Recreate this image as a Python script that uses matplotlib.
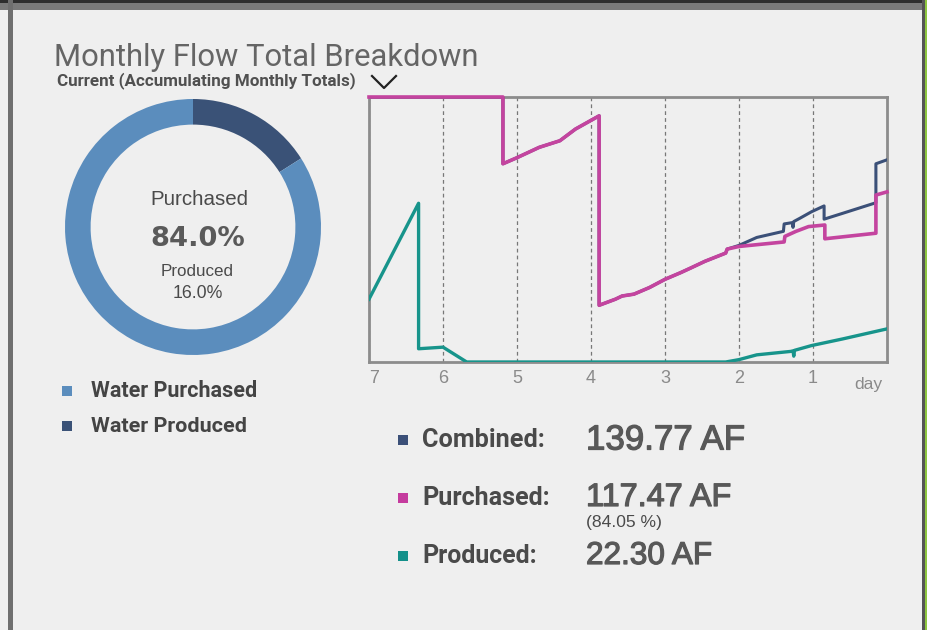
import matplotlib
matplotlib.use("Agg")
import matplotlib.pyplot as plt
import matplotlib.patheffects as pe
from matplotlib.lines import Line2D
from matplotlib.patches import Rectangle

W, H = 927, 630
BG = "#efefef"

# ---- data ----
share_labels = ["Water Purchased", "Water Produced"]
share_values = [84.0, 16.0]
share_colors = ["#5b8dbd", "#3a5277"]

day_ticks = [7, 6, 5, 4, 3, 2, 1]

combined_days = [7.0, 5.19, 5.19, 5.00, 4.70, 4.42, 4.21, 4.05, 3.89, 3.89, 3.67, 3.58, 3.42,
                 3.21, 3.00, 2.79, 2.65, 2.46, 2.18, 2.16, 2.00, 1.76, 1.40, 1.39, 1.28, 1.27,
                 1.26, 1.18, 1.02, 0.85, 0.85, 0.60, 0.15, 0.15, 0.0]
combined_vals = [10.0, 10.0, 7.48, 7.71, 8.10, 8.35, 8.79, 9.04, 9.29, 2.14, 2.37, 2.49, 2.56,
                 2.81, 3.12, 3.37, 3.55, 3.80, 4.11, 4.26, 4.40, 4.70, 4.93, 5.21, 5.26, 5.08,
                 5.30, 5.42, 5.67, 5.89, 5.39, 5.61, 6.01, 7.48, 7.63]

purchased_days = [7.0, 5.19, 5.19, 5.00, 4.70, 4.42, 4.21, 4.05, 3.89, 3.89, 3.67, 3.58, 3.42,
                  3.21, 3.00, 2.79, 2.65, 2.46, 2.18, 2.16, 2.00, 1.39, 1.38, 1.23, 1.06, 0.84,
                  0.84, 0.15, 0.15, 0.0]
purchased_vals = [10.0, 10.0, 7.48, 7.71, 8.10, 8.35, 8.79, 9.04, 9.29, 2.14, 2.37, 2.49, 2.56,
                  2.81, 3.12, 3.37, 3.55, 3.80, 4.11, 4.26, 4.36, 4.53, 4.74, 4.93, 5.11, 5.17,
                  4.65, 4.86, 6.30, 6.42]

produced_days = [7.0, 6.33, 6.33, 6.00, 5.68, 2.18, 2.00, 1.76, 1.30, 1.27, 1.26, 1.25, 1.02,
                 0.60, 0.0]
produced_vals = [2.37, 5.99, 0.50, 0.56, 0.0, 0.0, 0.09, 0.27, 0.40, 0.42, 0.22, 0.44, 0.62,
                 0.87, 1.25]

stat_names = ["Combined:", "Purchased:", "Produced:"]
stat_values = ["139.77 AF", "117.47 AF", "22.30 AF"]
stat_colors = ["#3b5078", "#c53b9e", "#14908a"]
purchased_pct = "(84.05 %)"

LINE_COMBINED = "#3b5078"
LINE_PURCHASED = "#c4449f"
LINE_PRODUCED = "#17948b"

NARROW = ["DejaVu Sans Condensed", "Roboto", "DejaVu Sans"]
PLAIN = ["Liberation Sans", "DejaVu Sans"]


def fx(px):
    return px / W


def fy(py):
    return 1 - py / H


fig = plt.figure(figsize=(W / 100, H / 100), dpi=100, facecolor=BG)
renderer = fig.canvas.get_renderer()


def fit_text(x, y, s, width, **kw):
    """Place text at pixel (x, y) and scale its size so it spans `width` pixels."""
    t = fig.text(fx(x), fy(y), s, **kw)
    w = t.get_window_extent(renderer).width
    t.set_fontsize(t.get_fontsize() * width / w)
    return t


def thicken(color, lw=0.7):
    return [pe.withStroke(linewidth=lw, foreground=color)]


# panel frame
fig.add_artist(Rectangle((0, fy(10)), 1, 10 / H, transform=fig.transFigure,
                         facecolor="#7a7a7a", edgecolor="none"))
fig.add_artist(Rectangle((0, fy(2.5)), 1, 2.5 / H, transform=fig.transFigure,
                         facecolor="#2e2e2e", edgecolor="none"))
fig.add_artist(Rectangle((fx(8), 0), 4.5 / W, fy(0), transform=fig.transFigure,
                         facecolor="#6f6f6f", edgecolor="none"))
fig.add_artist(Rectangle((fx(922), 0), 3 / W, 1, transform=fig.transFigure,
                         facecolor="#555555", edgecolor="none"))
fig.add_artist(Rectangle((fx(925), 0), 2 / W, 1, transform=fig.transFigure,
                         facecolor="#8ec63f", edgecolor="none"))

# title block
fit_text(54, 66, "Monthly Flow Total Breakdown", 424, fontsize=19, family=NARROW,
         color="#656565", va="baseline")
fit_text(57, 85, "Current (Accumulating Monthly Totals)", 300, fontsize=11, family=NARROW,
         fontweight="bold", color="#505050", va="baseline")
fig.add_artist(Line2D([fx(372), fx(384), fx(396)], [fy(76), fy(88), fy(76)],
                      transform=fig.transFigure, color="#222222", lw=1.6))

# donut
R = 128
dax = fig.add_axes([fx(193 - R), fy(227 + R), 2 * R / W, 2 * R / H])
dax.pie(share_values[::-1], colors=share_colors[::-1], startangle=90, counterclock=False,
        radius=1.0, wedgeprops=dict(width=0.2, linewidth=0.0))
dax.set_xlim(-1, 1)
dax.set_ylim(-1, 1)
dax.set_aspect("equal")
dax.axis("off")

fit_text(199, 205, "Purchased", 98, ha="center", va="baseline", fontsize=13.5,
         family=PLAIN, color="#4a4a4a")
fit_text(198, 246, f"{share_values[0]:.1f}%", 95, ha="center", va="baseline",
         fontsize=22, family=["DejaVu Sans"], fontweight="bold", color="#5a5a5a")
fit_text(197, 276, "Produced", 73, ha="center", va="baseline", fontsize=11,
         family=PLAIN, color="#4a4a4a")
fit_text(198, 298, f"{share_values[1]:.1f}%", 50, ha="center", va="baseline",
         fontsize=11, family=PLAIN, color="#4a4a4a")

# share legend
legend_widths = [166, 155]
for i, (lab, col) in enumerate(zip(share_labels, share_colors)):
    cy = 391 + 35 * i
    fig.add_artist(Rectangle((fx(62), fy(cy + 5)), 10 / W, 10 / H, transform=fig.transFigure,
                             facecolor=col, edgecolor="none"))
    fit_text(91, cy, lab, legend_widths[i], va="center", fontsize=13.5,
             family=NARROW, fontweight="bold", color="#444444")

# line chart
ax = fig.add_axes([fx(369), fy(362), (887 - 369) / W, (362 - 97) / H])
ax.set_facecolor(BG)
ax.plot(combined_days, combined_vals, color=LINE_COMBINED, lw=2.2, zorder=3)
ax.plot(purchased_days, purchased_vals, color=LINE_PURCHASED, lw=2.6, zorder=3.1,
        clip_on=False)
ax.plot(produced_days, produced_vals, color=LINE_PRODUCED, lw=2.4, zorder=3.2)
ax.set_xlim(7, 0)
ax.set_ylim(0, 10)
for d in day_ticks:
    ax.axvline(d, color="#777777", lw=0.9, ls=(0, (3, 2.5)), zorder=0)
ax.set_xticks(day_ticks)
ax.set_xticklabels([str(d) for d in day_ticks])
for lab in ax.get_xticklabels():
    lab.set_fontsize(13)
    lab.set_color("#8a8a8a")
    lab.set_family(PLAIN)
ax.get_xticklabels()[0].set_horizontalalignment("left")
ax.tick_params(axis="x", length=0, pad=6)
ax.set_yticks([])
for sp in ax.spines.values():
    sp.set_color("#8c8c8c")
    sp.set_linewidth(2)
fig.text(fx(868), fy(389), "day", ha="center", va="baseline", fontsize=12.5,
         family=PLAIN, color="#8a8a8a")

# totals
rows_y = [440, 498, 556]
name_widths = [123, 128, 115]
value_widths = [159, 145, 126]
for name, val, col, cy, nw, vw in zip(stat_names, stat_values, stat_colors, rows_y,
                                      name_widths, value_widths):
    fig.add_artist(Rectangle((fx(398), fy(cy + 5)), 10 / W, 10 / H, transform=fig.transFigure,
                             facecolor=col, edgecolor="none"))
    fit_text(422, cy, name, nw, va="center", fontsize=14.5, family=NARROW,
             fontweight="bold", color="#4a4a4a")
    fit_text(586, cy, val, vw, va="center", fontsize=19, family=PLAIN,
             color="#585858", path_effects=thicken("#585858", 0.9))
fit_text(586, 523, purchased_pct, 76, va="center", fontsize=8.5, family=PLAIN,
         color="#4a4a4a")

fig.savefig("out.png", dpi=100, facecolor=BG)
